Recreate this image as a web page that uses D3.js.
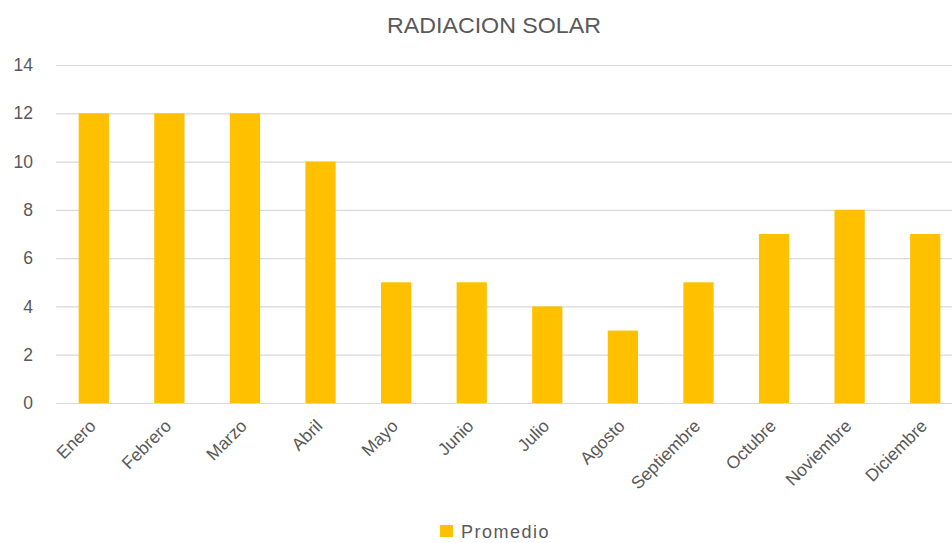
<!DOCTYPE html>
<html><head><meta charset="utf-8">
<script src="https://cdn.jsdelivr.net/npm/d3@7"></script>
<style>body{margin:0;background:#fff}svg{display:block}</style>
</head><body>
<svg id="c" width="952" height="543"></svg>
<script>
const categories = ["Enero","Febrero","Marzo","Abril","Mayo","Junio","Julio","Agosto","Septiembre","Octubre","Noviembre","Diciembre"];
const promedio = [12,12,12,10,5,5,4,3,5,7,8,7];
const yTicks = [0,2,4,6,8,10,12,14];
const title = "RADIACION SOLAR";
const seriesName = "Promedio";

(function(){
const svg = d3.select("#c");
const mL = 56, mR = 963, mT = 65, mB = 403;
const x = d3.scaleBand().domain(categories).range([mL, mR]).paddingInner(0.6).paddingOuter(0.3);
const y = d3.scaleLinear().domain([0, 14]).range([mB, mT]);

svg.append("text").attr("x", 494).attr("y", 33).attr("text-anchor", "middle")
  .attr("font-family", "Liberation Sans, Arial, sans-serif")
  .attr("font-size", 22).attr("fill", "#595959")
  .attr("textLength", 214).attr("lengthAdjust", "spacingAndGlyphs").text(title);

const ya = svg.append("g").attr("transform", `translate(${mL},0)`)
  .call(d3.axisLeft(y).tickValues(yTicks).tickSize(-(952 - mL)).tickPadding(23));
ya.select(".domain").remove();
ya.selectAll(".tick line").attr("stroke", "#d9d9d9").attr("stroke-width", 1.2);
ya.selectAll(".tick text").attr("font-family", "Liberation Sans, Arial, sans-serif").attr("font-size", 17.5).attr("fill", "#595959");

svg.append("g").selectAll("rect").data(promedio).join("rect")
  .attr("x", (d, i) => x(categories[i])).attr("width", x.bandwidth())
  .attr("y", d => y(d)).attr("height", d => y(0) - y(d)).attr("fill", "#ffc000");

const xa = svg.append("g").attr("transform", `translate(0,${mB})`)
  .call(d3.axisBottom(x).tickSize(0).tickPadding(0));
xa.select(".domain").remove();
xa.selectAll(".tick text").attr("font-family", "Liberation Sans, Arial, sans-serif").attr("font-size", 17.5).attr("fill", "#595959")
  .attr("text-anchor", "end").attr("dy", null)
  .attr("transform", "translate(3,24) rotate(-45)");

const lg = svg.append("g");
lg.append("rect").attr("x", 440).attr("y", 525).attr("width", 13).attr("height", 12).attr("fill", "#ffc000");
lg.append("text").attr("x", 461).attr("y", 538).attr("font-family", "Liberation Sans, Arial, sans-serif")
  .attr("font-size", 18).attr("fill", "#595959").attr("letter-spacing", 1.5).text(seriesName);
})();
</script>
</body></html>
